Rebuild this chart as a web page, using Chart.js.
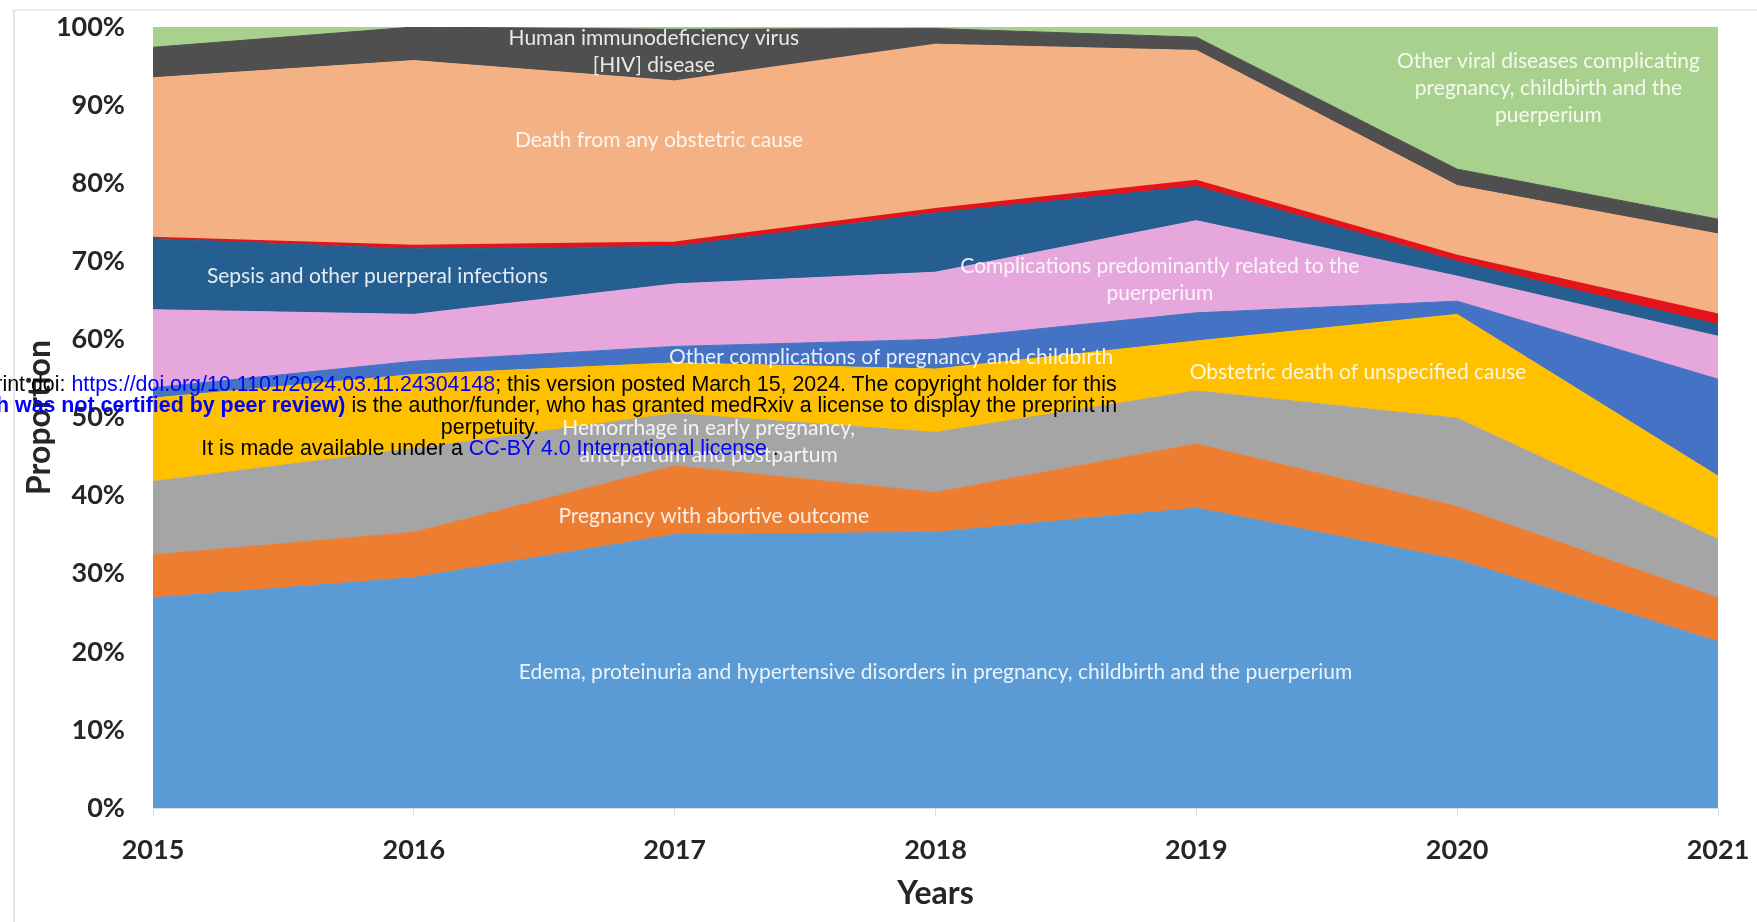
<!DOCTYPE html>
<html>
<head>
<meta charset="utf-8">
<script src="https://cdn.jsdelivr.net/npm/chart.js@4"></script>
<style>
  html, body { margin: 0; padding: 0; background: #fff; overflow: hidden; }
  #wrap { position: relative; width: 1757px; height: 922px; }
  #frame { position: absolute; left: 13px; top: 9px; right: -5px; bottom: -5px; border-left: 2px solid #e4e4e4; border-top: 2px solid #ececec; }
  #note { position: absolute; left: -510px; top: 374px; width: 2000px; text-align: center;
          font-family: "Liberation Sans", Arial, sans-serif; font-size: 21.4px; line-height: 21.3px; color: #000; }
  #note a { color: #0000ff; text-decoration: none; }
  #note b { color: #0000ff; }
</style>
</head>
<body>
<div id="wrap">
  <canvas id="chart" width="1757" height="922"></canvas>
  <div id="frame"></div>
  <div id="note">
    medRxiv preprint doi: <a>https://doi.org/10.1101/2024.03.11.24304148</a>; this version posted March 15, 2024. The copyright holder for this<br>
    preprint <b>(which was not certified by peer review)</b> is the author/funder, who has granted medRxiv a license to display the preprint in<br>
    perpetuity.<br>
    It is made available under a <a>CC-BY 4.0 International license</a> .
  </div>
</div>
<script>
document.addEventListener('DOMContentLoaded', () => {
  const years = ['2015', '2016', '2017', '2018', '2019', '2020', '2021'];

  // shares in %, bottom layer first
  const edema = [26.9, 29.5, 35.0, 35.3, 38.4, 31.8, 21.3];
  const abortive = [5.5, 5.8, 8.8, 5.1, 8.2, 6.8, 5.6];
  const hemorrhage = [9.4, 10.7, 6.7, 7.7, 6.8, 11.3, 7.5];
  const unspecified = [10.7, 9.5, 6.5, 8.1, 6.4, 13.3, 8.1];
  const otherComplications = [1.3, 1.7, 2.1, 3.8, 3.6, 1.7, 12.4];
  const puerperium = [10.0, 6.0, 8.0, 8.6, 11.8, 3.2, 5.5];
  const sepsis = [9.1, 8.4, 4.8, 7.6, 4.4, 1.9, 1.5];
  const otherObstetric = [0.1, 0.4, 0.5, 0.5, 0.7, 0.7, 1.3];
  const anyObstetric = [20.5, 23.7, 20.7, 21.1, 16.7, 9.0, 10.3];
  const hiv = [3.9, 4.3, 6.6, 2.0, 1.7, 2.1, 1.9];
  const otherViral = [2.6, 0, 0.3, 0.2, 1.3, 18.2, 24.6];

  const layers = [
    ['Edema, proteinuria and hypertensive disorders in pregnancy, childbirth and the puerperium', edema, '#5b9bd5'],
    ['Pregnancy with abortive outcome', abortive, '#ed7d31'],
    ['Hemorrhage in early pregnancy, antepartum and postpartum', hemorrhage, '#a5a5a5'],
    ['Obstetric death of unspecified cause', unspecified, '#ffc000'],
    ['Other complications of pregnancy and childbirth', otherComplications, '#4472c4'],
    ['Complications predominantly related to the puerperium', puerperium, '#e6a7dc'],
    ['Sepsis and other puerperal infections', sepsis, '#255e91'],
    ['Other obstetric conditions', otherObstetric, '#e3141c'],
    ['Death from any obstetric cause', anyObstetric, '#f4b183'],
    ['Human immunodeficiency virus [HIV] disease', hiv, '#4f4f4f'],
    ['Other viral diseases complicating pregnancy, childbirth and the puerperium', otherViral, '#a9d18e']
  ];

  // in-chart labels: [lines, x (year index), y (%)]
  const areaLabels = [
    [['Human immunodeficiency virus', '[HIV] disease'], 1.92, 96.8],
    [['Death from any obstetric cause'], 1.94, 85.5],
    [['Sepsis and other puerperal infections'], 0.86, 68.1],
    [['Complications predominantly related to the', 'puerperium'], 3.86, 67.6],
    [['Other complications of pregnancy and childbirth'], 2.83, 57.7],
    [['Obstetric death of unspecified cause'], 4.62, 55.8],
    [['Hemorrhage in early pregnancy,', 'antepartum and postpartum'], 2.13, 46.9],
    [['Pregnancy with abortive outcome'], 2.15, 37.3],
    [['Edema, proteinuria and hypertensive disorders in pregnancy, childbirth and the puerperium'], 3.0, 17.4],
    [['Other viral diseases complicating', 'pregnancy, childbirth and the', 'puerperium'], 5.35, 92.2]
  ];

  const labelPlugin = {
    id: 'areaLabels',
    afterDatasetsDraw(chart) {
      const ctx = chart.ctx;
      const xs = chart.scales.x, ys = chart.scales.y;
      ctx.save();
      ctx.font = '21px Lato, "Open Sans", sans-serif';
      ctx.fillStyle = 'rgba(255,255,255,0.88)';
      ctx.textAlign = 'center';
      ctx.textBaseline = 'middle';
      areaLabels.forEach(([lines, x, y]) => {
        const px = xs.getPixelForValue(x);
        const py = ys.getPixelForValue(y);
        const lh = 27;
        lines.forEach((t, i) => {
          ctx.fillText(t, px, py + (i - (lines.length - 1) / 2) * lh);
        });
      });
      ctx.restore();
    }
  };

  new Chart(document.getElementById('chart'), {
    type: 'line',
    data: {
      labels: years,
      datasets: layers.map(([name, values, color], i) => ({
        label: name,
        data: values,
        backgroundColor: color,
        borderColor: color,
        borderWidth: name === 'Other obstetric conditions' ? 2 : 1,
        pointRadius: 0,
        tension: 0,
        fill: i === 0 ? 'origin' : '-1'
      }))
    },
    options: {
      responsive: false,
      animation: false,
      layout: { padding: { top: 27, right: 39, left: 0, bottom: 0 } },
      plugins: {
        legend: { display: false },
        tooltip: { enabled: false }
      },
      scales: {
        x: {
          offset: false,
          grid: { display: true, drawOnChartArea: false, tickLength: 8, color: '#dcdcdc' },
          border: { display: true, color: '#dcdcdc' },
          ticks: { padding: 18, color: '#262626', font: { family: 'Lato', size: 27, weight: 'bold' }, maxRotation: 0 },
          title: { display: true, text: 'Years', color: '#262626', padding: { top: 0, bottom: 9 },
                   font: { family: 'Lato', size: 32, weight: 'bold' } },
          afterFit: (scale) => { scale.height = 114; scale.paddingLeft = 0; scale.paddingRight = 0; }
        },
        y: {
          stacked: true,
          min: 0,
          max: 100,
          grid: { display: false },
          border: { display: false },
          ticks: { stepSize: 10, padding: 20, color: '#262626', font: { family: 'Lato', size: 27, weight: 'bold' },
                   callback: (v) => v + '%' },
          title: { display: true, text: 'Proportion', color: '#262626', padding: { top: 20, bottom: 0 },
                   font: { family: 'Lato', size: 32, weight: 'bold' } },
          afterFit: (scale) => { scale.width = 153; scale.paddingTop = 0; scale.paddingBottom = 0; }
        }
      }
    },
    plugins: [labelPlugin]
  });
});
</script>
</body>
</html>
